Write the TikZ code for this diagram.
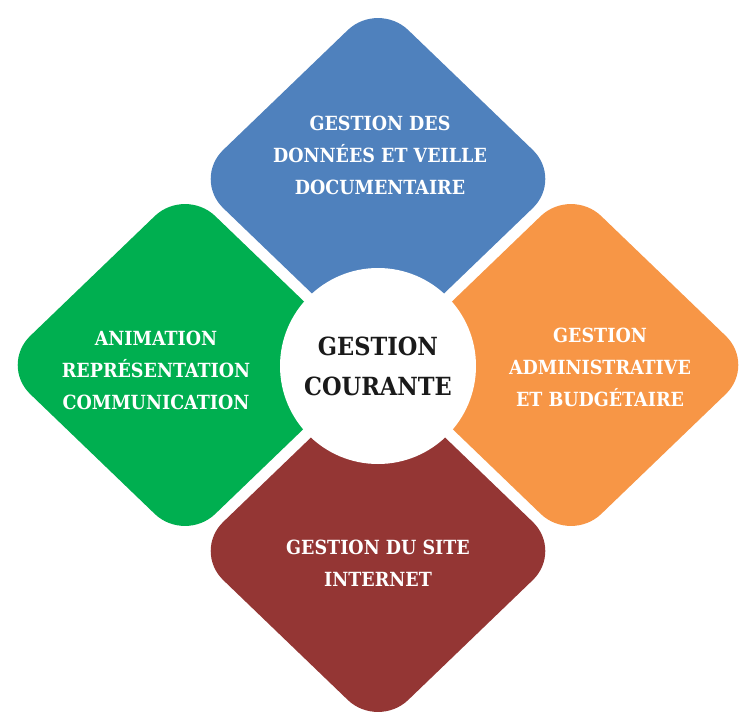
\documentclass[tikz,border=0pt]{standalone}
\usepackage{fontspec}
\newfontfamily\labelfont{DejaVu Serif Condensed Bold}
\definecolor{cblue}{HTML}{4F81BD}
\definecolor{cgreen}{HTML}{00AF50}
\definecolor{corange}{HTML}{F79646}
\definecolor{cred}{HTML}{943634}
\definecolor{cdark}{HTML}{1A1A1A}
\begin{document}
\begin{tikzpicture}[x=1pt,y=-1pt,
  petal/.style={rounded corners=42pt},
  lbl/.style={text=white, align=center, inner sep=0pt, font=\labelfont\fontsize{19.5}{32}\selectfont},
  hubstyle/.style={circle, fill=white, minimum size=196pt, inner sep=0pt, text=cdark, align=center, font=\labelfont\fontsize{25}{40}\selectfont}]
\useasboundingbox (0,0) rectangle (742,715);
\fill[white] (0,0) rectangle (742,715);
% petals
\fill[cblue, petal] (378,1) -- (563,179) -- (378,357) -- (193,179) -- cycle;
\fill[cred, petal] (378,373) -- (563,551) -- (378,729) -- (193,551) -- cycle;
\fill[cgreen, petal] (185,187) -- (370,365) -- (185,543) -- (0,365) -- cycle;
\fill[corange, petal] (571,187) -- (756,365) -- (571,543) -- (386,365) -- cycle;
% hub
\node[hubstyle] (hub) at (378,366) {GESTION\\COURANTE};
% labels
\node[lbl] (top) at (380,155) {GESTION DES\\DONNÉES ET VEILLE\\DOCUMENTAIRE};
\node[lbl] (left) at (156,370) {ANIMATION\\REPRÉSENTATION\\COMMUNICATION};
\node[lbl] (right) at (600,367) {GESTION\\ADMINISTRATIVE\\ET BUDGÉTAIRE};
\node[lbl] (bottom) at (378,563) {GESTION DU SITE\\INTERNET};
\end{tikzpicture}
\end{document}
